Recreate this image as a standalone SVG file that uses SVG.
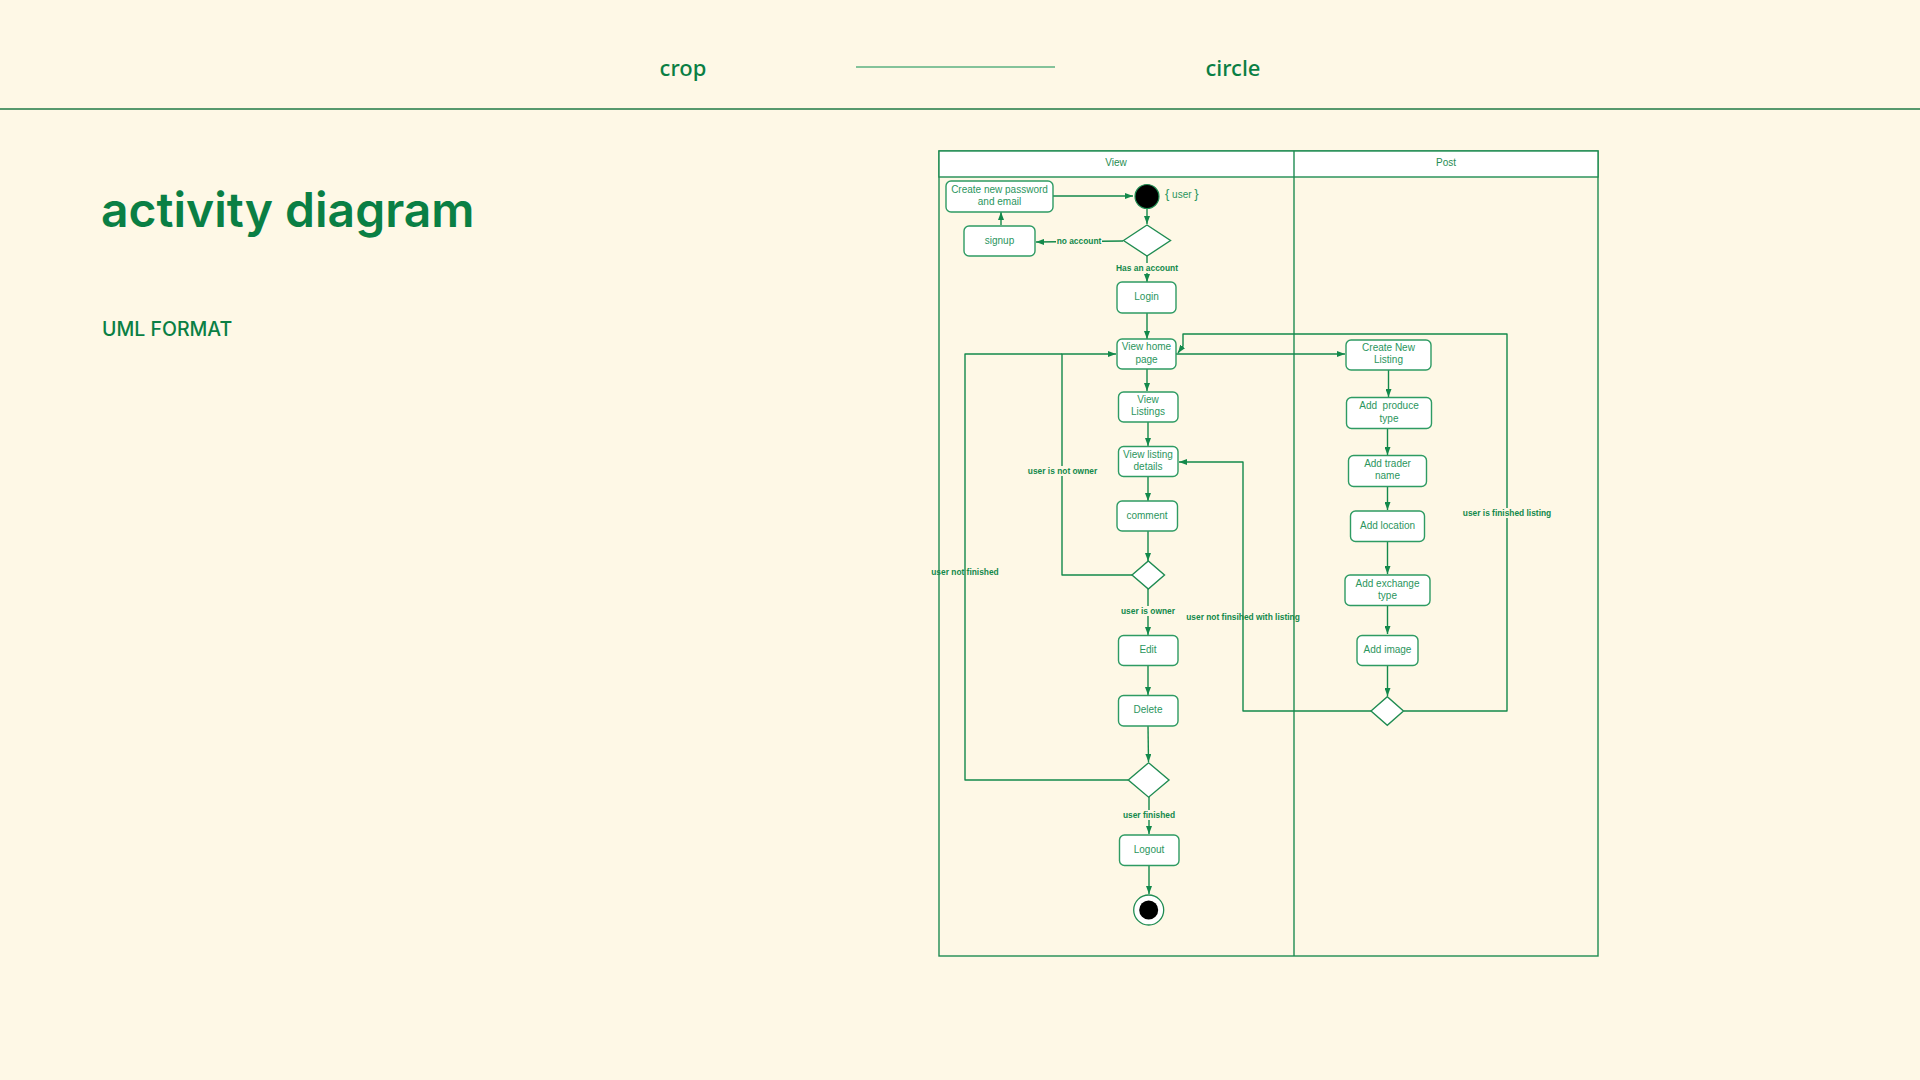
<svg xmlns="http://www.w3.org/2000/svg" width="1920" height="1080" viewBox="0 0 1920 1080">
  <defs>
    <marker id="arrow" markerUnits="userSpaceOnUse" markerWidth="8" markerHeight="6" refX="8" refY="3" orient="auto">
      <path d="M0,0 L8,3 L0,6 z" fill="#13894b"/>
    </marker>
    <style>
      .page-title { font-family: Inter, "Noto Sans", sans-serif; font-weight: 600; fill: #0a7f44; }
      .page-sub { font-family: Inter, "Noto Sans", sans-serif; font-weight: 500; fill: #0a7f44; }
      .tab { font-family: "Noto Sans", "Open Sans", sans-serif; font-weight: 500; font-size: 22px; fill: #0a7f44; text-anchor: middle; }
      .lane { fill: none; stroke: #1f8c52; stroke-width: 1.4; }
      .lane-head { fill: #ffffff; stroke: #1f8c52; stroke-width: 1.4; }
      .lane-title { font-family: "Liberation Sans", Arial, sans-serif; font-size: 10px; fill: #1f8c52; text-anchor: middle; }
      .act rect { fill: #ffffff; stroke: #2e9b63; stroke-width: 1.4; }
      .act text { font-family: "Liberation Sans", Arial, sans-serif; font-size: 10px; fill: #2a955d; text-anchor: middle; }
      .note { font-family: "Liberation Sans", Arial, sans-serif; font-size: 10px; fill: #2a955d; text-anchor: start; }
      .dec polygon { fill: #ffffff; stroke: #1f8c52; stroke-width: 1.4; }
      .flow path { fill: none; stroke: #13894b; stroke-width: 1.4; stroke-linejoin: round; }
      .lbl { font-family: "Liberation Sans", Arial, sans-serif; font-size: 8.4px; font-weight: bold; fill: #13894b; text-anchor: middle; }
      .lbl-bg { fill: #fef8e6; }
    </style>
  </defs>

  <!-- page background -->
  <rect x="0" y="0" width="1920" height="1080" fill="#fef8e6"/>

  <!-- top navigation -->
  <text class="tab" x="683" y="76">crop</text>
  <line x1="856" y1="67" x2="1055" y2="67" stroke="#84c39a" stroke-width="2"/>
  <text class="tab" x="1233" y="76">circle</text>
  <line x1="0" y1="109" x2="1920" y2="109" stroke="#1f7a45" stroke-width="1.5"/>

  <!-- heading -->
  <text class="page-title" x="101" y="227" font-size="48">activity diagram</text>
  <text class="page-sub" x="102" y="336" font-size="19.5">UML FORMAT</text>

  <!-- swimlanes -->
  <g id="swimlanes">
    <rect class="lane" x="939" y="151" width="659" height="805"/>
    <rect class="lane-head" x="939" y="151" width="659" height="26"/>
    <line class="lane" x1="1294" y1="151" x2="1294" y2="956"/>
    <text class="lane-title" x="1116" y="166">View</text>
    <text class="lane-title" x="1446" y="166">Post</text>
  </g>

  <!-- connectors -->
  <g id="connectors" class="flow">
    <path d="M1053,196 L1133,196" marker-end="url(#arrow)"/>
    <path d="M1147,209 L1147,224" marker-end="url(#arrow)"/>
    <path d="M1123,241 L1036,242" marker-end="url(#arrow)"/>
    <path d="M1001,225 L1001,212" marker-end="url(#arrow)"/>
    <path d="M1147,256 L1147,282" marker-end="url(#arrow)"/>
    <path d="M1147,313 L1147,339" marker-end="url(#arrow)"/>
    <path d="M1147,369 L1147,391" marker-end="url(#arrow)"/>
    <path d="M1148,422 L1148,446" marker-end="url(#arrow)"/>
    <path d="M1148,477 L1148,501" marker-end="url(#arrow)"/>
    <path d="M1148,531 L1148,561" marker-end="url(#arrow)"/>
    <path d="M1132,575 L1062,575 L1062,354 L1116,354" marker-end="url(#arrow)"/>
    <path d="M1148,589 L1148,635" marker-end="url(#arrow)"/>
    <path d="M1148,666 L1148,695" marker-end="url(#arrow)"/>
    <path d="M1148,726 L1148.5,762" marker-end="url(#arrow)"/>
    <path d="M1128,780 L965,780 L965,354 L1062,354"/>
    <path d="M1149,797 L1149,834" marker-end="url(#arrow)"/>
    <path d="M1149,865 L1149,894" marker-end="url(#arrow)"/>
    <path d="M1176,354 L1345,354" marker-end="url(#arrow)"/>
    <path d="M1388.5,370 L1388.5,397" marker-end="url(#arrow)"/>
    <path d="M1387.5,428 L1387.5,455" marker-end="url(#arrow)"/>
    <path d="M1387.5,486 L1387.5,510" marker-end="url(#arrow)"/>
    <path d="M1387.5,541 L1387.5,574" marker-end="url(#arrow)"/>
    <path d="M1387.5,605 L1387.5,634" marker-end="url(#arrow)"/>
    <path d="M1387.5,666 L1387.5,696" marker-end="url(#arrow)"/>
    <path d="M1403.5,711 L1507,711 L1507,334 L1183,334 L1183,346 L1178,353" marker-end="url(#arrow)"/>
    <path d="M1371,711 L1243,711 L1243,462 L1179,462" marker-end="url(#arrow)"/>
  </g>

  <!-- guard labels -->
  <g id="guards">
    <rect class="lbl-bg" x="1056" y="236" width="46" height="10"/>
    <text class="lbl" x="1079" y="244">no account</text>
    <rect class="lbl-bg" x="1114" y="263" width="66" height="10"/>
    <text class="lbl" x="1147" y="271">Has an account</text>
    <rect class="lbl-bg" x="1026" y="466" width="73" height="10"/>
    <text class="lbl" x="1062.5" y="474">user is not owner</text>
    <text class="lbl" x="965" y="575">user not finished</text>
    <rect class="lbl-bg" x="1120" y="606" width="56" height="10"/>
    <text class="lbl" x="1148" y="614">user is owner</text>
    <rect class="lbl-bg" x="1122" y="810" width="54" height="10"/>
    <text class="lbl" x="1149" y="818">user finished</text>
    <rect class="lbl-bg" x="1462" y="508" width="90" height="10"/>
    <text class="lbl" x="1507" y="516">user is finished listing</text>
    <text class="lbl" x="1243" y="620">user not finsihed with listing</text>
  </g>

  <!-- start node -->
  <g id="start">
    <circle cx="1147" cy="196.5" r="12" fill="#000000" stroke="#1f8c52" stroke-width="1.2"/>
    <text class="note" x="1165" y="198"><tspan font-size="13">{</tspan> user <tspan font-size="13">}</tspan></text>
  </g>

  <!-- View lane activities -->
  <g id="create-account" class="act">
    <rect x="946" y="181" width="107" height="31" rx="5"/>
    <text x="999.5" y="193">Create new password</text>
    <text x="999.5" y="205">and email</text>
  </g>
  <g id="signup" class="act">
    <rect x="964" y="226" width="71" height="30" rx="5"/>
    <text x="999.5" y="243.5">signup</text>
  </g>
  <g id="decision-account" class="dec">
    <polygon points="1123.5,240.5 1147,225 1170.5,240.5 1147,256"/>
  </g>
  <g id="login" class="act">
    <rect x="1117" y="282" width="59" height="31" rx="5"/>
    <text x="1146.5" y="300">Login</text>
  </g>
  <g id="view-home" class="act">
    <rect x="1117" y="339" width="59" height="30" rx="5"/>
    <text x="1146.5" y="350">View home</text>
    <text x="1146.5" y="362.5">page</text>
  </g>
  <g id="view-listings" class="act">
    <rect x="1118.5" y="392" width="59.5" height="30" rx="5"/>
    <text x="1148" y="403">View</text>
    <text x="1148" y="415">Listings</text>
  </g>
  <g id="listing-details" class="act">
    <rect x="1118.5" y="446.5" width="59.5" height="30" rx="5"/>
    <text x="1148" y="457.5">View listing</text>
    <text x="1148" y="469.5">details</text>
  </g>
  <g id="comment" class="act">
    <rect x="1117" y="501" width="60.5" height="30" rx="5"/>
    <text x="1147" y="518.5">comment</text>
  </g>
  <g id="decision-owner" class="dec">
    <polygon points="1132,575 1148.3,561 1164.5,575 1148.3,589"/>
  </g>
  <g id="edit" class="act">
    <rect x="1118.5" y="635.5" width="59.5" height="30" rx="5"/>
    <text x="1148" y="652.5">Edit</text>
  </g>
  <g id="delete" class="act">
    <rect x="1118.5" y="695.5" width="59.5" height="30.5" rx="5"/>
    <text x="1148" y="713">Delete</text>
  </g>
  <g id="decision-finished" class="dec">
    <polygon points="1128.3,780 1148.6,762.8 1169,780 1148.6,797.2"/>
  </g>
  <g id="logout" class="act">
    <rect x="1119.5" y="835" width="59.5" height="30.5" rx="5"/>
    <text x="1149" y="852.5">Logout</text>
  </g>
  <g id="end">
    <circle cx="1148.7" cy="910" r="15" fill="#ffffff" stroke="#1f8c52" stroke-width="1.3"/>
    <circle cx="1148.7" cy="910" r="9.5" fill="#000000"/>
  </g>

  <!-- Post lane activities -->
  <g id="create-listing" class="act">
    <rect x="1346" y="340" width="85" height="30" rx="5"/>
    <text x="1388.5" y="351">Create New</text>
    <text x="1388.5" y="363">Listing</text>
  </g>
  <g id="produce-type" class="act">
    <rect x="1346.5" y="397.5" width="85" height="31" rx="5"/>
    <text x="1389" y="409" xml:space="preserve">Add  produce</text>
    <text x="1389" y="421.5">type</text>
  </g>
  <g id="trader-name" class="act">
    <rect x="1348.5" y="455.5" width="78" height="31" rx="5"/>
    <text x="1387.5" y="467">Add trader</text>
    <text x="1387.5" y="479">name</text>
  </g>
  <g id="location" class="act">
    <rect x="1350.5" y="511" width="74" height="30.5" rx="5"/>
    <text x="1387.5" y="528.5">Add location</text>
  </g>
  <g id="exchange-type" class="act">
    <rect x="1345" y="575" width="85" height="30.5" rx="5"/>
    <text x="1387.5" y="586.5">Add exchange</text>
    <text x="1387.5" y="598.5">type</text>
  </g>
  <g id="add-image" class="act">
    <rect x="1357" y="635.5" width="61" height="30" rx="5"/>
    <text x="1387.5" y="652.5">Add image</text>
  </g>
  <g id="decision-listing" class="dec">
    <polygon points="1371,711 1387.3,696.7 1403.5,711 1387.3,725.3"/>
  </g>
</svg>
